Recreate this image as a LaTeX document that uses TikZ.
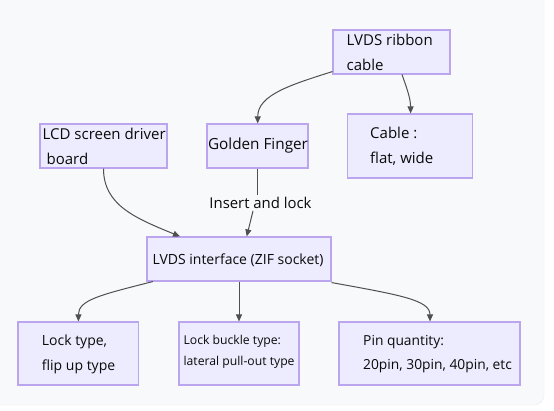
\documentclass[tikz,border=0pt]{standalone}
\usepackage{fontspec}
\setmainfont{Open Sans}
\usetikzlibrary{arrows.meta}
\definecolor{bgc}{HTML}{F8F9FB}
\definecolor{bgedge}{HTML}{ECEDF0}
\definecolor{boxfill}{HTML}{ECECFE}
\definecolor{boxdraw}{HTML}{BBA5EE}
\definecolor{linec}{HTML}{505050}
\definecolor{txt}{HTML}{0A0A0A}
\tikzset{
  box/.style={draw=boxdraw, fill=boxfill, line width=1.1pt, inner sep=0pt},
  txtn/.style={text=txt, align=left, inner sep=0pt, anchor=west, font=\fontsize{14}{25}\selectfont},
  uptxt/.style={txtn, font=\fontsize{15}{25}\selectfont},
  smalltxt/.style={txtn, font=\fontsize{12.2}{21}\selectfont},
  arr/.style={draw=linec, line width=1pt, -{Triangle[length=7pt,width=6pt]}},
  conn/.style={draw=linec, line width=1pt},
}
\begin{document}
\begin{tikzpicture}[x=1pt,y=-1pt]
\useasboundingbox (0,0) rectangle (554,411);
\fill[white] (0,0) rectangle (554,411);
\draw[bgedge, fill=bgc, rounded corners=10pt] (-20,-20) rectangle (544,405);

% boxes
\node[box, minimum width=117pt, minimum height=44pt] (rib) at (391.5,52) {};
\node[box, minimum width=125pt, minimum height=64pt] (cab) at (410,146) {};
\node[box, minimum width=127pt, minimum height=44pt] (lcd) at (103.5,146) {};
\node[box, minimum width=101pt, minimum height=44pt] (gf) at (257.5,146) {};
\node[box, minimum width=184pt, minimum height=44pt] (ifc) at (239,259) {};
\node[box, minimum width=120.5pt, minimum height=63pt] (lock) at (78.25,353.5) {};
\node[box, minimum width=120pt, minimum height=63pt] (buck) at (239,353.5) {};
\node[box, minimum width=181pt, minimum height=63pt] (pin) at (429.5,353.5) {};

% texts
\node[uptxt] (ribt) at (346.5,52) {LVDS ribbon\\cable};
\node[uptxt] (cabt) at (370,146) {Cable :\\flat, wide};
\node[uptxt] (lcdt) at (42.5,146) {LCD screen driver\\~board};
\node[uptxt, anchor=center, font=\fontsize{15.3}{25}\selectfont] (gft) at (258,146) {Golden Finger};
\node[txtn, anchor=center] (ifct) at (238,260) {LVDS interface (ZIF socket)};
\node[txtn] (lockt) at (41.7,354) {Lock type,\\flip up type};
\node[smalltxt] (buckt) at (183.4,352) {Lock buckle type:\\lateral pull-out type};
\node[txtn, font=\fontsize{13.8}{24.5}\selectfont] (pint) at (363,354) {Pin quantity:\\20pin, 30pin, 40pin, etc};
\node[txtn, anchor=center, inner sep=2pt, font=\fontsize{14.9}{18}\selectfont] (ins) at (260.5,203) {Insert and lock};

% connectors
\draw[arr] ([yshift=3pt]rib.south west) .. controls (290,85) and (257.7,95) .. ([xshift=0.2pt]gf.north);
\draw[arr] ([xshift=10.5pt]rib.south) .. controls (406,86) and (410.6,98) .. ([xshift=0.6pt]cab.north);
\draw[arr] (lcd.south) .. controls (103.5,205) and (135,218) .. ([xshift=-59pt]ifc.north);
\draw[conn] (gf.south) -- (gf.south |- ins.north);
\draw[arr] ([xshift=-7.5pt]ins.south) -- ([xshift=7.7pt]ifc.north);
\draw[arr] ([xshift=6.4pt]ifc.south west) .. controls (100,295) and (78.4,300) .. ([xshift=0.15pt]lock.north);
\draw[arr] (ifc.south) -- (buck.north);
\draw[arr] ([yshift=-1pt]ifc.south east) .. controls (400,295) and (430,300) .. ([xshift=0.5pt]pin.north);
\end{tikzpicture}
\end{document}
